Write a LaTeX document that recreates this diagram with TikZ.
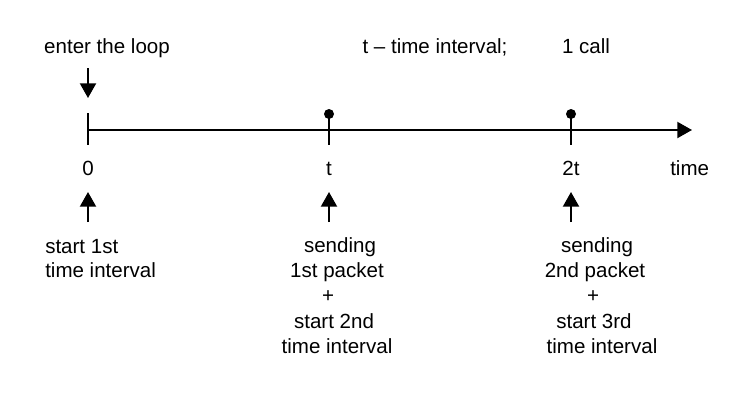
\documentclass[tikz,border=0pt]{standalone}
\usepackage{fontspec}
\setmainfont{Liberation Sans}
\usetikzlibrary{arrows.meta}
\begin{document}
\begin{tikzpicture}[x=0.75pt,y=-0.75pt,
  lbl/.style={inner sep=0pt,anchor=base,font=\fontsize{15.4}{18.75}\selectfont},
  lblw/.style={lbl,anchor=base west},
  axisline/.style={line width=1.5pt},
  pointer/.style={line width=1.5pt,-{Triangle[width=12pt,length=11pt]}},
  dotmark/.style={circle,fill=black,inner sep=0pt,minimum size=7.5pt}]
\useasboundingbox (0,0) rectangle (742,400);
% time axis and ticks
\coordinate (origin) at (88,130);
\coordinate (axisend) at (692,130);
\draw[line width=1.5pt,-{Triangle[width=12pt,length=11pt]}] (origin) -- (axisend);
\coordinate (tick0top) at (88,113);
\coordinate (tick0bot) at (88,145);
\draw[axisline] (tick0top) -- (tick0bot);
\node[dotmark] (dot1) at (329,114) {};
\coordinate (tick1bot) at (329,145);
\draw[axisline] (dot1.center) -- (tick1bot);
\node[dotmark] (dot2) at (571,114) {};
\coordinate (tick2bot) at (571,145);
\draw[axisline] (dot2.center) -- (tick2bot);
% header texts
\node[lbl] (enter) at (107,53) {enter the loop};
\node[lbl] (legend) at (435,53) {t -- time interval;};
\node[lbl] (call) at (586,53) {1 call};
% entry arrow
\coordinate (entrytail) at (88,68);
\coordinate (entrytip) at (88,98);
\draw[pointer] (entrytail) -- (entrytip);
% axis labels
\node[lbl] (l0) at (88,175) {0};
\node[lbl] (l1) at (329,175) {t};
\node[lbl] (l2) at (571,175) {2t};
\node[lblw] (ltime) at (670,175) {time};
% upward arrows
\coordinate (up0tail) at (88,222);
\coordinate (up0tip) at (88,192);
\draw[pointer] (up0tail) -- (up0tip);
\coordinate (up1tail) at (329,222);
\coordinate (up1tip) at (329,192);
\draw[pointer] (up1tail) -- (up1tip);
\coordinate (up2tail) at (571,222);
\coordinate (up2tip) at (571,192);
\draw[pointer] (up2tail) -- (up2tip);
% event descriptions
\node[lblw] (a1) at (45,253) {start 1st};
\node[lblw] (a2) at (45,277) {time interval};
\node[lbl] (b1) at (340,252) {sending};
\node[lbl] (b2) at (337,277) {1st packet};
\node[lbl] (b3) at (328,302) {+};
\node[lbl] (b4) at (334,328) {start 2nd};
\node[lbl] (b5) at (337,353) {time interval};
\node[lbl] (c1) at (597,252) {sending};
\node[lbl] (c2) at (595,277) {2nd packet};
\node[lbl] (c3) at (593,302) {+};
\node[lbl] (c4) at (594,328) {start 3rd};
\node[lbl] (c5) at (602,353) {time interval};
\end{tikzpicture}
\end{document}
